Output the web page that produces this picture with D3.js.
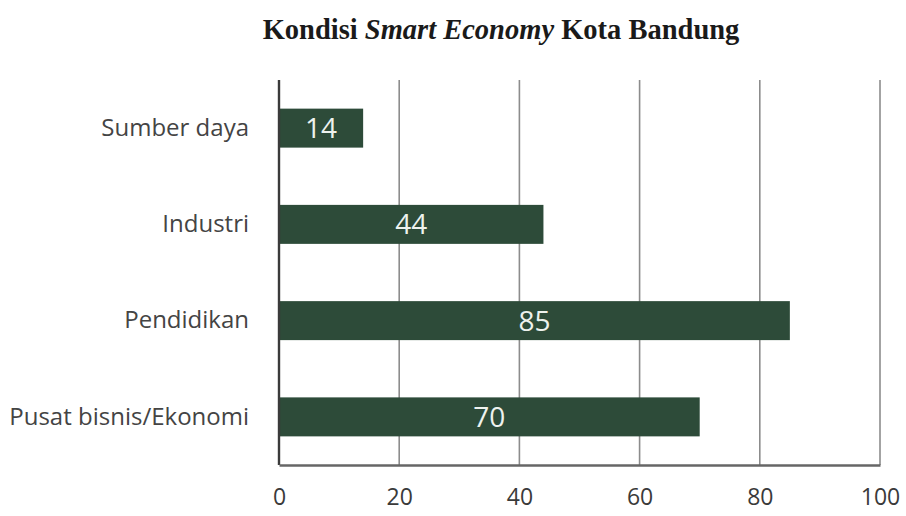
<!DOCTYPE html>
<html>
<head>
<meta charset="utf-8">
<script src="https://cdn.jsdelivr.net/npm/d3@7"></script>
<style>
  html, body { margin: 0; padding: 0; background: #fff; }
  svg { display: block; }
</style>
</head>
<body>
<svg id="chart" width="906" height="516"></svg>
<script>
// Smart Economy indicators for Kota Bandung
const categories = ["Sumber daya", "Industri", "Pendidikan", "Pusat bisnis/Ekonomi"];
const values = [14, 44, 85, 70];
const xTicks = [0, 20, 40, 60, 80, 100];

const svg = d3.select("#chart");
const margin = { top: 80, right: 26, bottom: 51, left: 279 };
const W = 906, H = 516;
const innerW = W - margin.left - margin.right;
const innerH = H - margin.top - margin.bottom;

const g = svg.append("g").attr("transform", `translate(${margin.left},${margin.top})`);

const x = d3.scaleLinear().domain([0, 100]).range([0, innerW]);
const y = d3.scaleBand().domain(categories).range([0, innerH]).paddingInner(0.595).paddingOuter(0.2975);

// Title with italic middle part
const title = svg.append("text")
  .attr("x", 501).attr("y", 39)
  .attr("text-anchor", "middle")
  .attr("font-family", "'Liberation Serif', 'DejaVu Serif', serif")
  .attr("font-weight", "bold")
  .attr("font-size", 28.5)
  .attr("fill", "#1a1a1a");
title.append("tspan").text("Kondisi ");
title.append("tspan").attr("font-style", "italic").text("Smart Economy");
title.append("tspan").text(" Kota Bandung");

// Vertical gridlines
g.append("g").selectAll("line")
  .data(xTicks.slice(1))
  .join("line")
  .attr("x1", d => x(d)).attr("x2", d => x(d))
  .attr("y1", 0).attr("y2", innerH)
  .attr("stroke", "#8c8c8c").attr("stroke-width", 1.6);

// Bars
g.append("g").selectAll("rect")
  .data(categories)
  .join("rect")
  .attr("x", x(0))
  .attr("y", d => y(d))
  .attr("width", (d, i) => x(values[i]) - x(0))
  .attr("height", y.bandwidth())
  .attr("fill", "#2d4b39");

// Value labels inside bars
g.append("g").selectAll("text")
  .data(categories)
  .join("text")
  .attr("x", (d, i) => (x(0) + x(values[i])) / 2)
  .attr("y", d => y(d) + y.bandwidth() / 2)
  .attr("dy", "0.36em")
  .attr("text-anchor", "middle")
  .attr("font-family", "'Open Sans', 'Noto Sans', sans-serif")
  .attr("font-size", 28)
  .attr("fill", "#eef2ee")
  .text((d, i) => values[i]);

// Left axis line
g.append("line")
  .attr("x1", 0).attr("x2", 0).attr("y1", 0).attr("y2", innerH)
  .attr("stroke", "#3a3a3a").attr("stroke-width", 2.4);

// Bottom axis
const xAxis = d3.axisBottom(x).tickValues(xTicks).tickSize(0).tickPadding(24).tickFormat(d3.format("d"));
const xa = g.append("g").attr("transform", `translate(0,${innerH})`).call(xAxis);
xa.select(".domain").attr("stroke", "#666").attr("stroke-width", 2.6);
xa.selectAll("text")
  .attr("font-family", "'Open Sans', 'Noto Sans', sans-serif")
  .attr("font-size", 23)
  .attr("fill", "#3a3a3a");

// Category labels
const yAxis = d3.axisLeft(y).tickSize(0).tickPadding(30);
const ya = g.append("g").call(yAxis);
ya.select(".domain").remove();
ya.selectAll("text")
  .attr("font-family", "'Open Sans', 'Noto Sans', sans-serif")
  .attr("font-size", 24)
  .attr("fill", "#444");
</script>
</body>
</html>
